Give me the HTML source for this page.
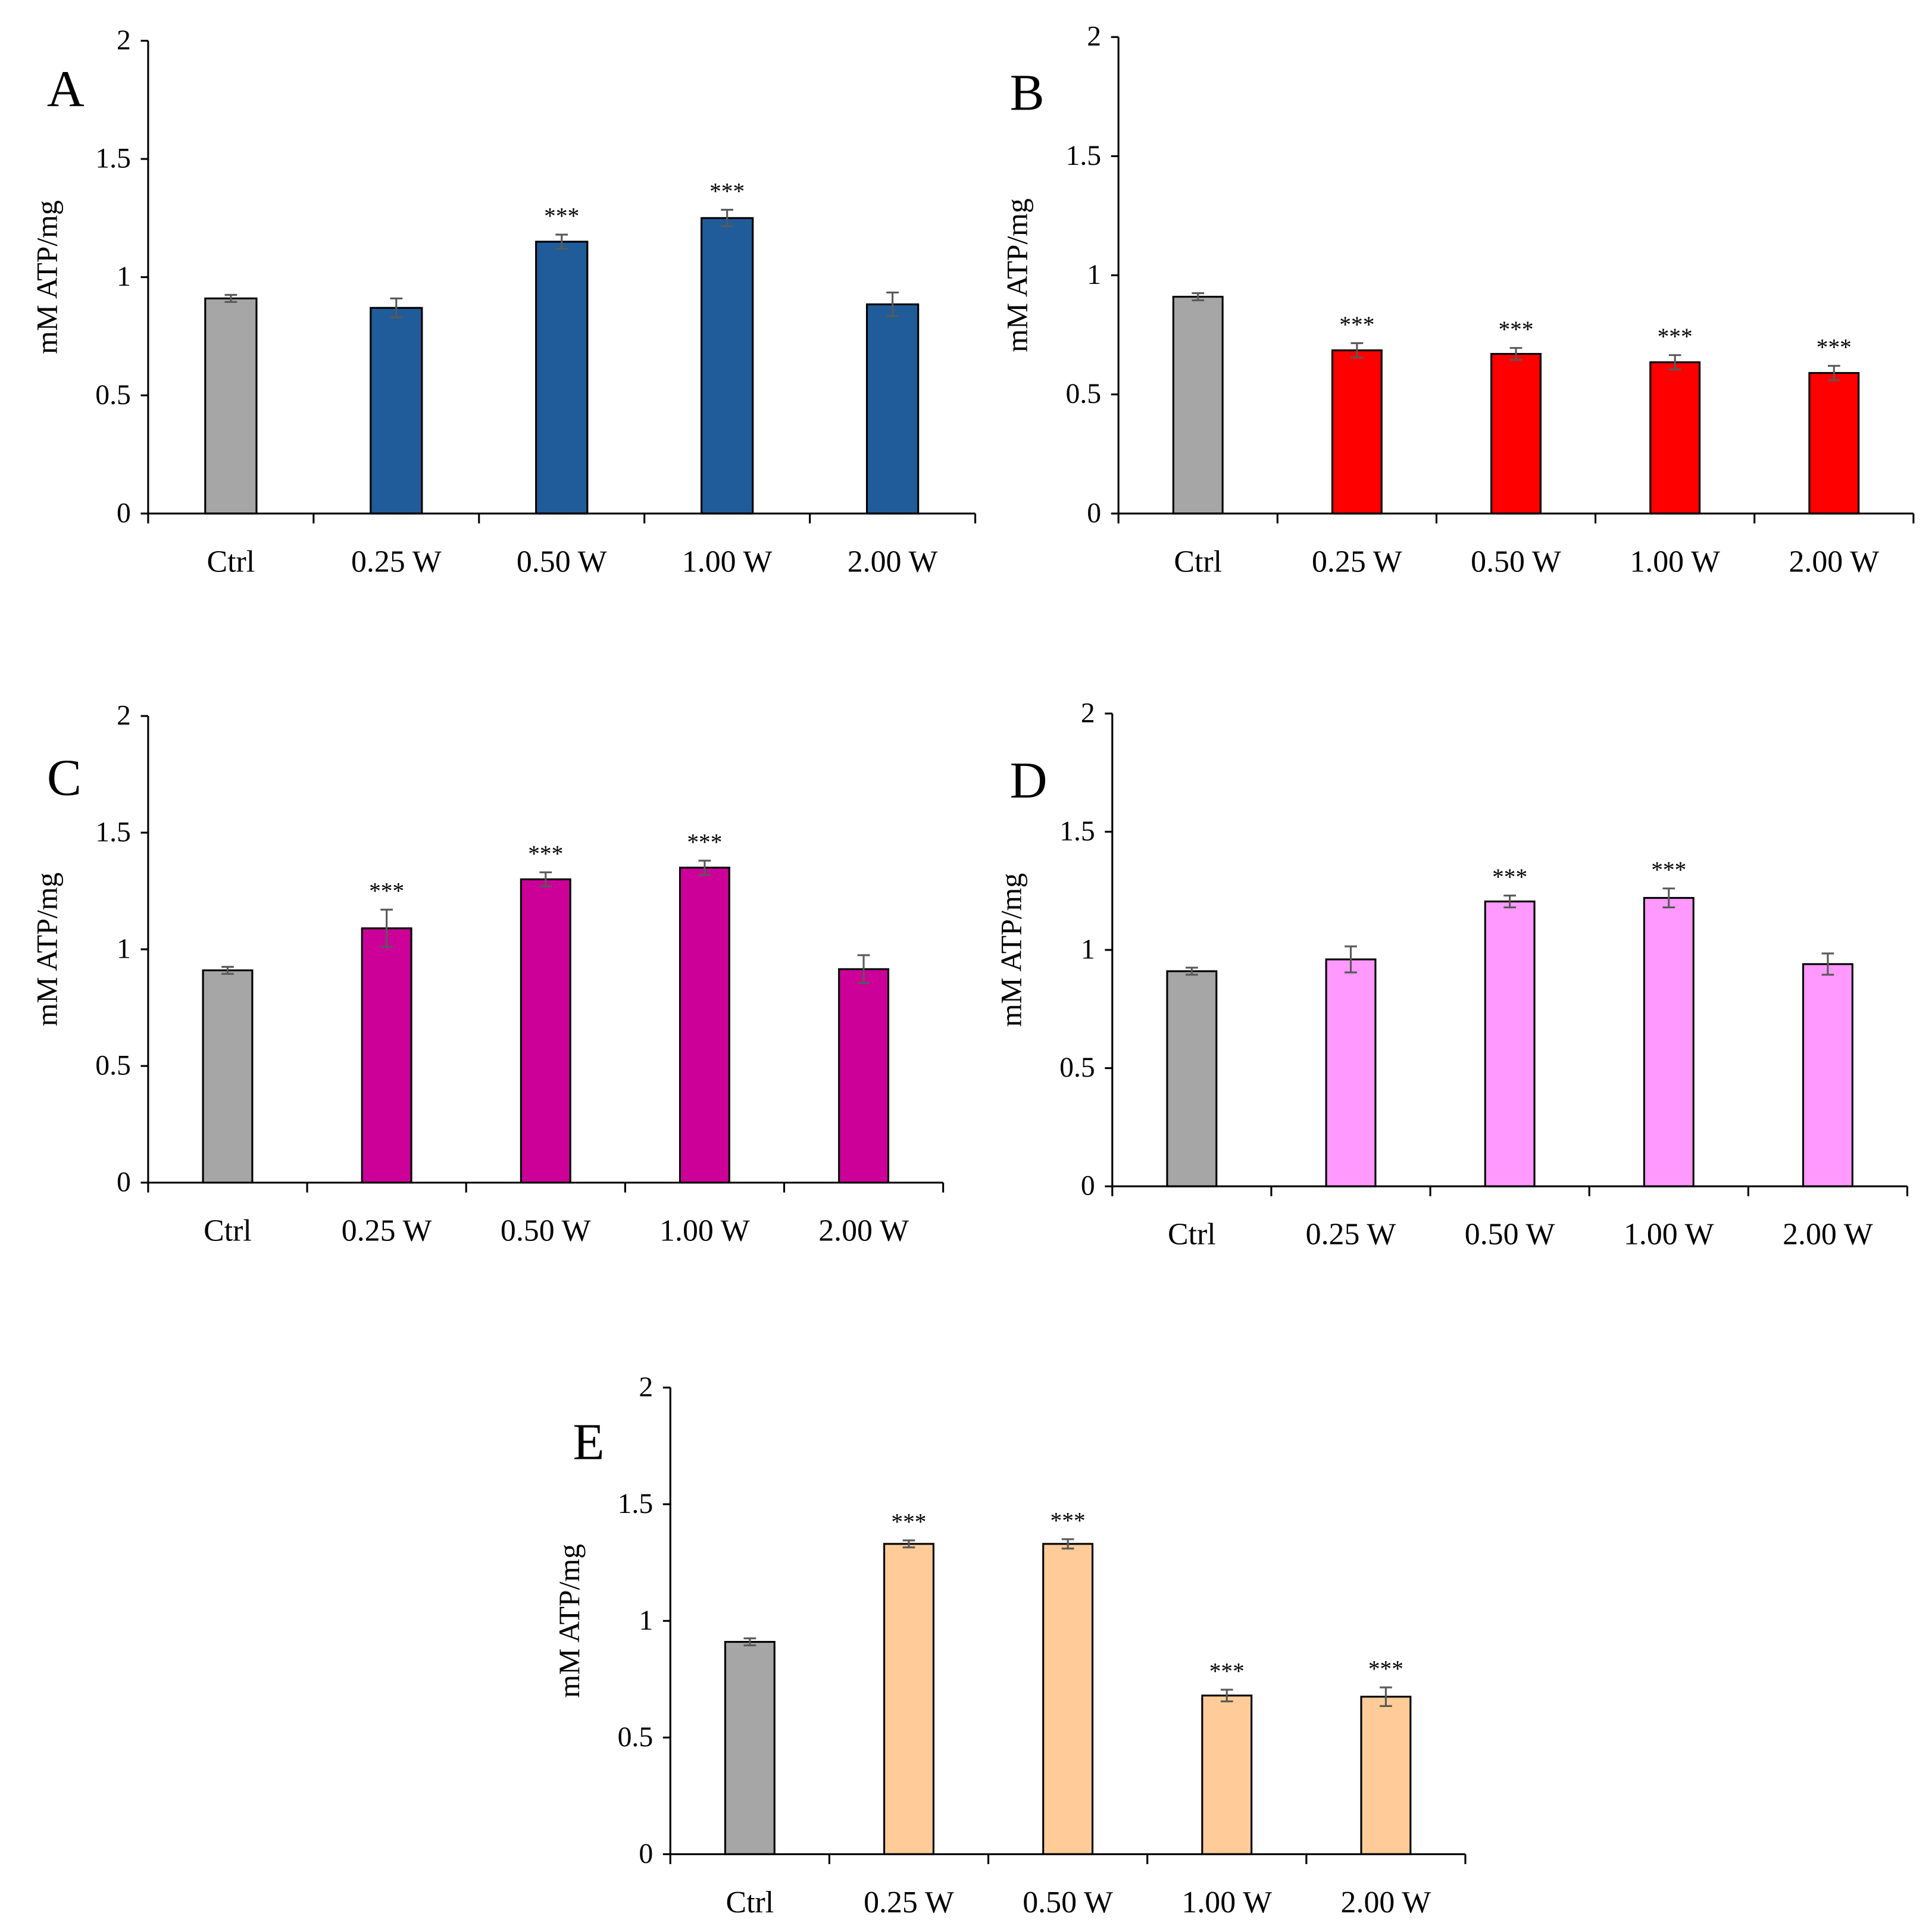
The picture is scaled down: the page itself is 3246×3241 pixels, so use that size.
<!DOCTYPE html>
<html><head><meta charset="utf-8"><style>html,body{margin:0;padding:0;background:#fff}svg{display:block}text{font-family:"Liberation Serif",serif;fill:#000}</style></head>
<body>
<svg id="fig" width="3246" height="3241" viewBox="0 0 1565 1562.6" xmlns="http://www.w3.org/2000/svg"></svg>
<script>
const categories = ["Ctrl","0.25 W","0.50 W","1.00 W","2.00 W"];
const yTicks = [0,0.5,1,1.5,2];
const yTickLabels = ["0","0.5","1","1.5","2"];
const valuesA = [0.91,0.87,1.15,1.25,0.885];
const errorsA = [0.015,0.04,0.03,0.035,0.05];
const starsA = [false,false,true,true,false];
const valuesB = [0.91,0.685,0.67,0.635,0.59];
const errorsB = [0.015,0.03,0.025,0.03,0.03];
const starsB = [false,true,true,true,true];
const valuesC = [0.91,1.09,1.30,1.35,0.915];
const errorsC = [0.015,0.08,0.03,0.03,0.06];
const starsC = [false,true,true,true,false];
const valuesD = [0.91,0.96,1.205,1.22,0.94];
const errorsD = [0.015,0.055,0.025,0.04,0.045];
const starsD = [false,false,true,true,false];
const valuesE = [0.91,1.33,1.33,0.68,0.675];
const errorsE = [0.015,0.015,0.02,0.025,0.04];
const starsE = [false,true,true,true,true];

const NS="http://www.w3.org/2000/svg";
const svg=document.getElementById('fig');
function mk(tag,attrs,parent){const e=document.createElementNS(NS,tag);for(const k in attrs)e.setAttribute(k,attrs[k]);parent.appendChild(e);return e;}

function panel(cfg){
  const g=mk('g',{},svg);
  
  
  const yS=v=>cfg.y0+(cfg.y2-cfg.y0)*v/2;
  const n=categories.length, step=(cfg.xr-cfg.x0)/n;
  const xC=i=>cfg.x0+step*(i+0.5);
  const bw=step*0.31;
  const ya=mk('line',{x1:cfg.x0,y1:cfg.y0,x2:cfg.x0,y2:cfg.y2,stroke:'#000','stroke-width':1.5},g);
  
  
  yTicks.forEach((t,i)=>{
    mk('line',{x1:cfg.x0-6,y1:yS(t),x2:cfg.x0,y2:yS(t),stroke:'#000','stroke-width':1.5},g);
    const tx=mk('text',{x:cfg.x0-14,y:yS(t)+7,'text-anchor':'end','font-size':23},g);
    tx.textContent=yTickLabels[i];
    
    
  });
  cfg.values.forEach((v,i)=>{
    const r=mk('rect',{x:xC(i)-bw/2,y:yS(v),width:bw,height:yS(0)-yS(v),fill:i===0?'#a6a6a6':cfg.color,stroke:'#000','stroke-width':1.5},g);
    
    
    const e=cfg.errors[i], yt=yS(v+e), yb=yS(v-e);
    mk('line',{x1:xC(i),y1:yt,x2:xC(i),y2:yb,stroke:'#595959','stroke-width':1.5},g);
    mk('line',{x1:xC(i)-5,y1:yt,x2:xC(i)+5,y2:yt,stroke:'#595959','stroke-width':1.5},g);
    mk('line',{x1:xC(i)-5,y1:yb,x2:xC(i)+5,y2:yb,stroke:'#595959','stroke-width':1.5},g);
    if(cfg.stars[i]){
      const s=mk('text',{x:xC(i),y:yt-9,'text-anchor':'middle','font-size':19},g);
      s.textContent='***';
      
      
    }
    const cl=mk('text',{x:xC(i),y:yS(0)+47,'text-anchor':'middle','font-size':25},g);
    cl.textContent=categories[i];
    
    
  });
  const xa=mk('line',{x1:cfg.x0,y1:cfg.y0,x2:cfg.xr,y2:cfg.y0,stroke:'#000','stroke-width':1.5},g);
  
  
  for(let i=0;i<=n;i++) mk('line',{x1:cfg.x0+step*i,y1:cfg.y0,x2:cfg.x0+step*i,y2:cfg.y0+8,stroke:'#000','stroke-width':1.5},g);
  const yt=mk('text',{x:0,y:0,'text-anchor':'middle','font-size':24,transform:`translate(${cfg.x0-74},${(cfg.y0+cfg.y2)/2}) rotate(-90)`},g);
  yt.textContent='mM ATP/mg';
  
  
  const L=mk('text',{x:cfg.lx,y:cfg.ly,'font-size':42},g);
  L.textContent=cfg.letter;
  
  
}
panel({letter:'A',x0:120,xr:790,y0:416,y2:33,values:valuesA,errors:errorsA,stars:starsA,color:'#1f5c99',lx:38,ly:86});
panel({letter:'B',x0:906,xr:1550,y0:416,y2:30,values:valuesB,errors:errorsB,stars:starsB,color:'#ff0000',lx:818,ly:89});
panel({letter:'C',x0:120,xr:764,y0:958,y2:580,values:valuesC,errors:errorsC,stars:starsC,color:'#cc0099',lx:38,ly:644});
panel({letter:'D',x0:901,xr:1545,y0:961,y2:578,values:valuesD,errors:errorsD,stars:starsD,color:'#ff99ff',lx:818,ly:646});
panel({letter:'E',x0:543,xr:1187,y0:1502,y2:1124,values:valuesE,errors:errorsE,stars:starsE,color:'#ffcc99',lx:464,ly:1182});
</script>
</body></html>
